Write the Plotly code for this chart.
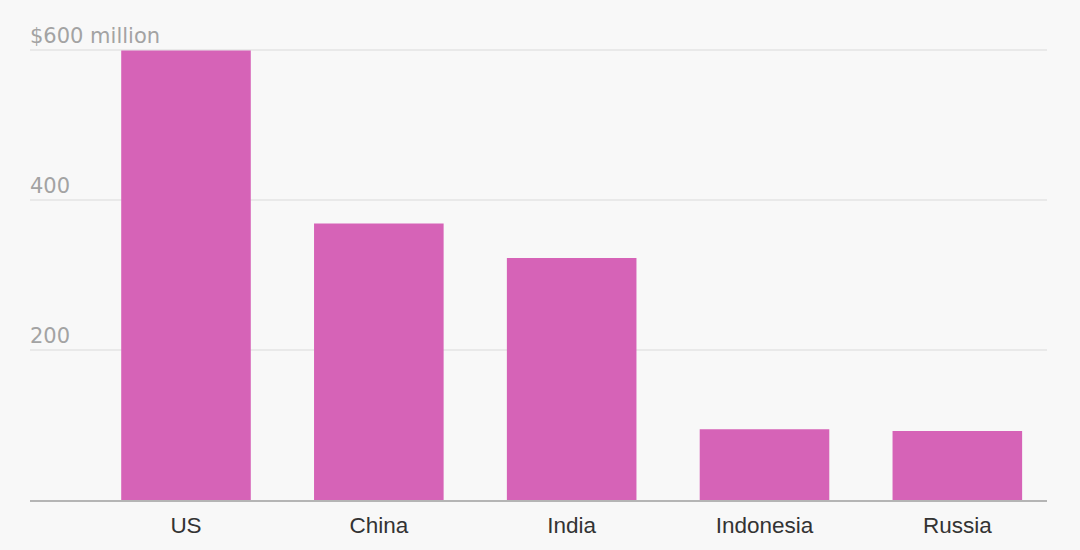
import plotly.graph_objects as go

countries = ["US", "China", "India", "Indonesia", "Russia"]
values = [600, 369, 323, 94.5, 92]
y_tickvals = [0, 200, 400, 600]
y_ticktext = ["", "200", "400", "$600 million"]

fig = go.Figure(go.Bar(
    x=list(range(len(countries))),
    y=values,
    marker=dict(color="#d663b7", line=dict(width=0)),
    width=0.672,
    hoverinfo="skip",
))

fig.update_layout(
    width=1080, height=550,
    paper_bgcolor="#f8f8f8", plot_bgcolor="#f8f8f8",
    margin=dict(l=30, r=33, t=22, b=47),
    showlegend=False,
    font=dict(family="Liberation Sans, Arial, sans-serif"),
)
fig.update_xaxes(
    range=[-0.809, 4.465],
    tickmode="array", tickvals=list(range(len(countries))), ticktext=countries,
    tickfont=dict(size=22.5, color="#333333"),
    showgrid=False, zeroline=False,
    showline=True, linecolor="#b5b5b5", linewidth=1.5,
    ticks="", ticklabelstandoff=4,
)
fig.update_yaxes(
    range=[0, 638],
    tickmode="array", tickvals=y_tickvals, ticktext=y_ticktext,
    tickfont=dict(size=21, color="#a3a3a3", family="DejaVu Sans"),
    ticklabelposition="inside top", ticklabelstandoff=-3,
    showgrid=True, gridcolor="#e9e9e9", gridwidth=1.5,
    zeroline=False, ticks="",
)

fig.write_html(
    "out.html",
    config={"displayModeBar": False},
    post_script="document.body.style.margin='0';document.body.style.background='#f8f8f8';",
)
